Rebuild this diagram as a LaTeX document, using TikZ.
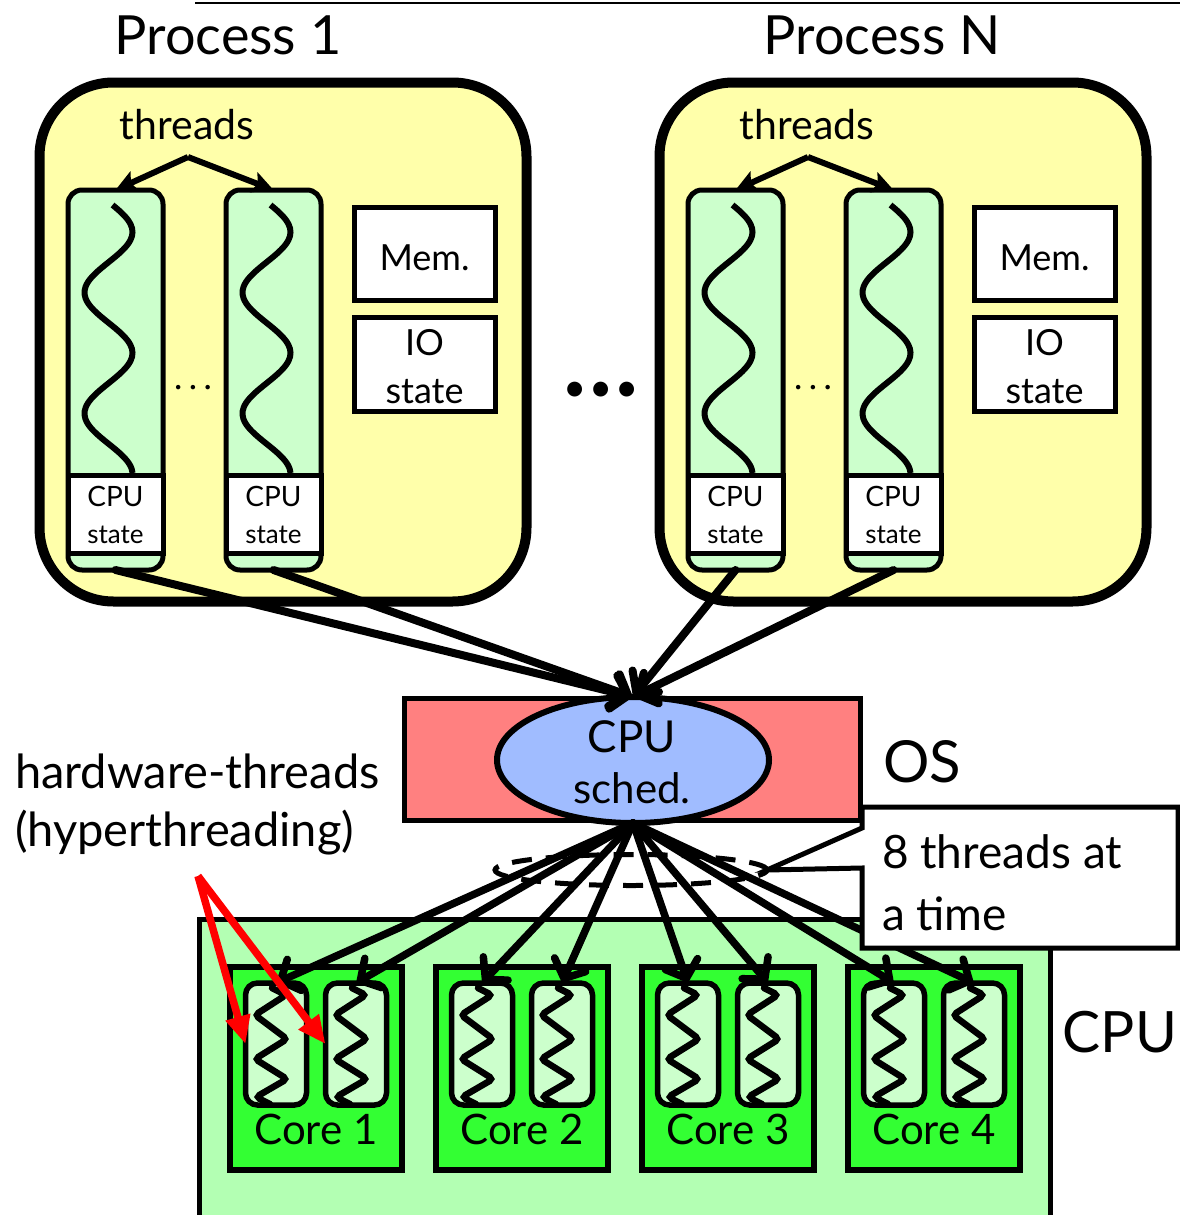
\documentclass[tikz,border=0pt]{standalone}
\usepackage{fontspec}
\setmainfont{Lato}
\usetikzlibrary{arrows.meta,shapes.geometric,calc}
\definecolor{procY}{RGB}{255,255,170}
\definecolor{thrG}{RGB}{204,255,204}
\definecolor{osR}{RGB}{255,128,128}
\definecolor{schB}{RGB}{160,188,255}
\definecolor{cpuG}{RGB}{179,255,179}
\definecolor{coreG}{RGB}{51,255,51}
\newcommand{\fs}[1]{\fontsize{#1}{#1}\selectfont}
\begin{document}
\begin{tikzpicture}[x=1pt,y=-1pt,
  every node/.style={outer sep=0pt},
  proc/.style={draw, line width=10pt, fill=procY, rounded corners=74pt, minimum width=487pt, minimum height=519pt, inner sep=0pt},
  tcol/.style={draw, line width=5pt, fill=thrG, rounded corners=14pt, minimum width=95pt, minimum height=380pt, inner sep=0pt},
  cstate/.style={draw, line width=5pt, fill=white, minimum width=95pt, minimum height=78pt, inner sep=0pt},
  resbox/.style={draw, line width=5pt, fill=white, minimum width=141pt, minimum height=94pt, inner sep=0pt},
  lbl/.style={anchor=base, inner sep=0pt},
  wave/.style={line width=6pt},
  zig/.style={line width=6.5pt, rounded corners=4pt, line cap=round},
  tarr/.style={line width=6pt, -{Stealth[length=21pt,width=21pt,inset=4pt]}},
  barr/.style={line width=7.5pt, line cap=round, -{Straight Barb[length=15pt,width=34pt,line cap=round]}},
  rarr/.style={line width=7.5pt, red, -{Triangle[length=28pt,width=24pt]}},
  core/.style={draw, line width=6pt, fill=coreG, minimum width=172pt, minimum height=203pt, inner sep=0pt},
  hwt/.style={draw, line width=5.5pt, fill=thrG, rounded corners=12pt, minimum width=61pt, minimum height=122pt, inner sep=0pt}
]
\useasboundingbox (0,0) rectangle (1180,1215);

% top rule
\coordinate (rulea) at (195,3);
\coordinate (ruleb) at (1180,3);
\draw[line width=2pt] (rulea) -- (ruleb);

% processes
\foreach \s/\n/\tx in {0/1/228,620/N/882}{
  \node[lbl] (ptitle\n) at (\tx,55) {\fs{54}Process \n};
  \node[proc] (proc\n) at (283+\s,342) {};
  \node[lbl] (thr\n) at (187+\s,139) {\fs{41}threads};
  \node[tcol] (c\n a) at (115.5+\s,380) {};
  \node[tcol] (c\n b) at (273.5+\s,380) {};
  \coordinate (ta\n) at (188+\s,157);
  \draw[tarr] (ta\n) -- (c\n a.north);
  \draw[tarr] (ta\n) -- (c\n b.north);
  \draw[wave] plot[smooth, domain=205:473, samples=70, variable=\t] ({\s+108.5+24*sin(2.975*(\t-201.75))},{\t});
  \draw[wave] plot[smooth, domain=205:473, samples=70, variable=\t] ({\s+266.5+24*sin(2.975*(\t-201.75))},{\t});
  \node[cstate] (s\n a) at (115.5+\s,514) {};
  \node[cstate] (s\n b) at (273.5+\s,514) {};
  \node[lbl] (sc\n a) at (115.5+\s,506) {\fs{28}CPU};
  \node[lbl] (st\n a) at (115.5+\s,543) {\fs{26}state};
  \node[lbl] (sc\n b) at (273.5+\s,506) {\fs{28}CPU};
  \node[lbl] (st\n b) at (273.5+\s,543) {\fs{26}state};
  \node[lbl] (dots\n) at (193+\s,396) {\fs{30}·\hspace{7pt}·\hspace{7pt}·};
  \node[resbox, minimum height=93pt] (mem\n) at (424.5+\s,253.5) {};
  \node[lbl] (memt\n) at (424.5+\s,270) {\fs{36}Mem.};
  \node[resbox] (io\n) at (424.5+\s,364) {};
  \node[lbl] (iot\n) at (424.5+\s,355) {\fs{36}IO};
  \node[lbl] (iost\n) at (424.5+\s,403) {\fs{36}state};
}
\node[lbl] (bigdots) at (601,401) {\fs{40}•\hspace{2.5pt}•\hspace{2.5pt}•};

% OS
\node[draw, line width=5pt, fill=osR, minimum width=456pt, minimum height=122pt, inner sep=0pt] (os) at (632,759) {};
\node[ellipse, draw, line width=6pt, fill=schB, minimum width=272pt, minimum height=126pt, inner sep=0pt] (sched) at (633,760) {};
\node[lbl] (schedA) at (632,752) {\fs{44}CPU};
\node[lbl] (schedB) at (632,803) {\fs{42}sched.};
\node[lbl] (ostxt) at (922,782) {\fs{58}OS};

% process -> scheduler
\foreach \n in {1,N}{
  \draw[barr, line width=8pt] (c\n a.south) -- (sched.north);
  \draw[barr, line width=8pt] (c\n b.south) -- (sched.north);
}

% hardware threads label
\node[lbl, anchor=base west] (hwA) at (15,788) {\fs{47}hardware-threads};
\node[lbl, anchor=base west] (hwB) at (15,846) {\fs{47}(hyperthreading)};

% CPU
\node[draw, line width=5pt, fill=cpuG, minimum width=851pt, minimum height=331pt, inner sep=0pt] (cpu) at (624.5,1084.5) {};
\node[lbl] (cputxt) at (1120,1052) {\fs{57}CPU};

\node[ellipse, draw, line width=5pt, dash pattern=on 20pt off 14pt, minimum width=272pt, minimum height=31pt, inner sep=0pt] (grp) at (631,870) {};

\foreach \k/\cx in {1/316,2/522,3/728,4/934}{
  \node[core] (core\k) at (\cx,1068.5) {};
  \node[hwt] (h\k a) at (\cx-40,1044) {};
  \node[hwt] (h\k b) at (\cx+40,1044) {};
  \foreach \h in {a,b}{
    \draw[zig] ([shift={(-4,5)}]h\k\h.north) -- ++(14,7) -- ++(-31,20) -- ++(32,24) -- ++(-32,20) -- ++(32,20) -- ++(-31,18) -- ++(14,7);
    \draw[barr] (sched.south) -- (h\k\h.north);
  }
  \node[lbl] (coret\k) at (\cx,1144) {\fs{42}Core \k};
}

% callout
\draw[line width=5pt, fill=white] (862,807) -- (1178,807) -- (1178,948) -- (862,948) -- (862,868) -- (grp.east) -- (862,828) -- cycle;
\node[lbl, anchor=base west] (eightA) at (882,868) {\fs{46}8 threads at};
\node[lbl, anchor=base west] (eightB) at (882,930) {\fs{46}a time};

% red arrows
\coordinate (hwsrc) at (198,876);
\draw[rarr] (hwsrc) -- (h1a.west);
\draw[rarr] (hwsrc) -- (h1b.west);
\end{tikzpicture}
\end{document}
